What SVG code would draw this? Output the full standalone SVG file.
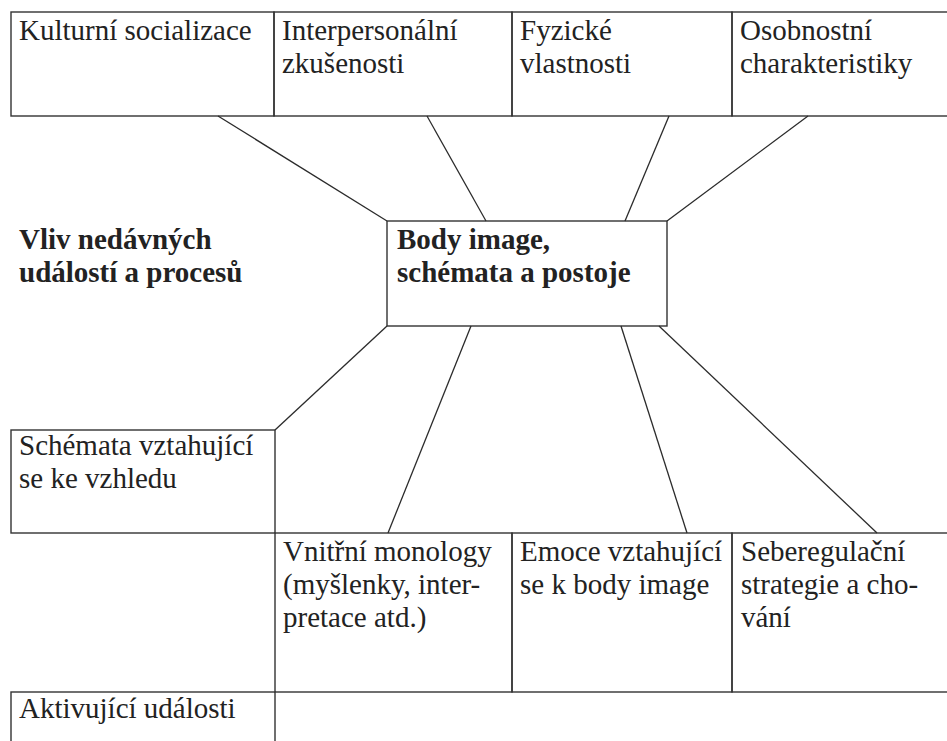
<svg xmlns="http://www.w3.org/2000/svg" width="947" height="741" viewBox="0 0 947 741">
  <style>
    .box { fill: none; stroke: #333; stroke-width: 1.4; }
    .conn line { stroke: #2b2b2b; stroke-width: 1.3; fill: none; }
    text { font-family: "Liberation Serif", "Times New Roman", serif; font-size: 29px; fill: #222; }
    .b { font-weight: bold; }
  </style>
  <rect x="0" y="0" width="947" height="741" fill="#fff"/>

  <g id="kulturni">
    <rect class="box" x="11" y="12" width="263" height="104"/>
    <text x="19" y="40">Kulturní socializace</text>
  </g>
  <g id="interpersonalni">
    <rect class="box" x="274" y="12" width="238" height="104"/>
    <text x="282" y="40">Interpersonální</text>
    <text x="282" y="73">zkušenosti</text>
  </g>
  <g id="fyzicke">
    <rect class="box" x="512" y="12" width="220" height="104"/>
    <text x="520" y="40">Fyzické</text>
    <text x="520" y="73">vlastnosti</text>
  </g>
  <g id="osobnostni">
    <rect class="box" x="732" y="12" width="230" height="104"/>
    <text x="740" y="40">Osobnostní</text>
    <text x="740" y="73">charakteristiky</text>
  </g>

  <g id="vliv">
    <text class="b" x="19" y="249">Vliv nedávných</text>
    <text class="b" x="19" y="282">událostí a procesů</text>
  </g>

  <g id="body-image">
    <rect class="box" x="387" y="221" width="280" height="105"/>
    <text class="b" x="397" y="249">Body image,</text>
    <text class="b" x="397" y="282">schémata a postoje</text>
  </g>

  <g id="schemata">
    <rect class="box" x="11" y="430" width="264" height="103"/>
    <text x="19" y="455">Schémata vztahující</text>
    <text x="19" y="488">se ke vzhledu</text>
  </g>

  <g id="vnitrni">
    <rect class="box" x="275" y="533" width="237" height="159"/>
    <text x="283" y="561">Vnitřní monology</text>
    <text x="283" y="594">(myšlenky, inter-</text>
    <text x="283" y="627">pretace atd.)</text>
  </g>
  <g id="emoce">
    <rect class="box" x="512" y="533" width="220" height="159"/>
    <text x="520" y="561">Emoce vztahující</text>
    <text x="520" y="594">se k body image</text>
  </g>
  <g id="seberegulacni">
    <rect class="box" x="732" y="533" width="230" height="159"/>
    <text x="741" y="561">Seberegulační</text>
    <text x="741" y="594">strategie a cho-</text>
    <text x="741" y="627">vání</text>
  </g>

  <g id="aktivujici">
    <rect class="box" x="11" y="692" width="264" height="70"/>
    <text x="19" y="718">Aktivující události</text>
  </g>

  <g id="connectors" class="conn">
    <line x1="218" y1="116" x2="387" y2="221"/>
    <line x1="427" y1="116" x2="486" y2="221"/>
    <line x1="669" y1="116" x2="625" y2="221"/>
    <line x1="808" y1="116" x2="667" y2="221"/>
    <line x1="387" y1="326" x2="275" y2="430"/>
    <line x1="471" y1="326" x2="388" y2="533"/>
    <line x1="621" y1="326" x2="687" y2="533"/>
    <line x1="659" y1="326" x2="877" y2="533"/>
  </g>
</svg>
